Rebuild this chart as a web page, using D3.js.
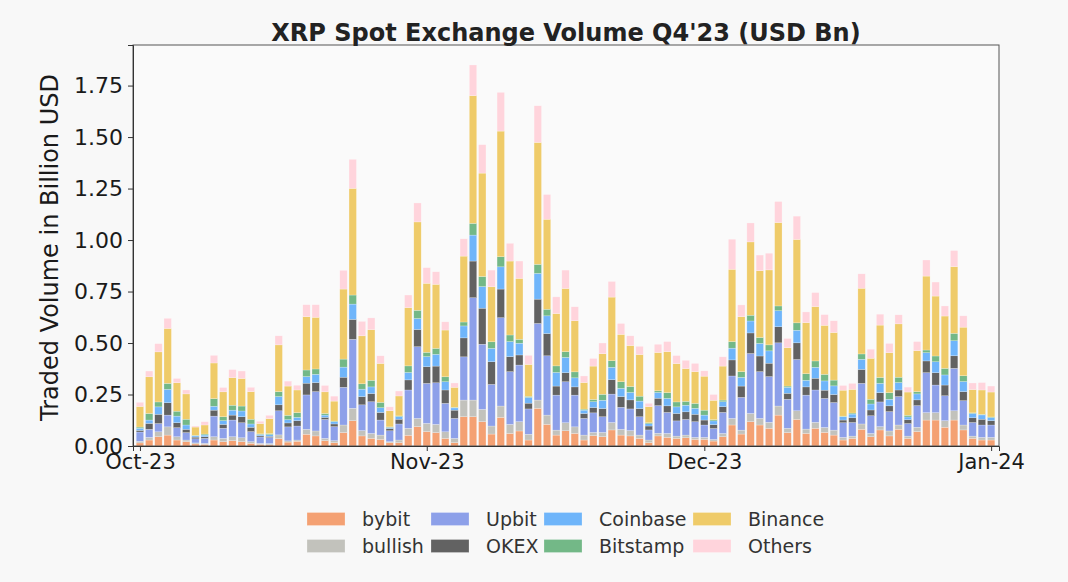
<!DOCTYPE html>
<html>
<head>
<meta charset="utf-8">
<script src="https://cdn.jsdelivr.net/npm/d3@7"></script>
<style>
  html, body { margin: 0; padding: 0; background: #f8f8f8; }
  svg { display: block; font-family: "DejaVu Sans", sans-serif; }
</style>
</head>
<body>
<svg id="chart" width="1068" height="582"></svg>
<script>
// ---------- data ----------
const startDate = "2023-10-01";
const endDate = "2024-01-01";
const seriesNames = ["bybit", "bullish", "Upbit", "OKEX", "Coinbase", "Bitstamp", "Binance", "Others"];
const seriesColors = ["#F4A173", "#C2C2BC", "#8DA0E9", "#626262", "#6FB5FA", "#73B887", "#EFCB69", "#FFD4DC"];
const yTicks = [0, 0.25, 0.5, 0.75, 1.0, 1.25, 1.5, 1.75];
const xTickLabels = ["Oct-23", "Nov-23", "Dec-23", "Jan-24"];
const xTickDates = ["2023-10-01", "2023-11-01", "2023-12-01", "2024-01-01"];

const bybit = [0.015,0.029,0.045,0.053,0.029,0.021,0.010,0.008,0.029,0.021,0.026,0.021,0.013,0.008,0.006,0.036,0.019,0.023,0.057,0.049,0.026,0.016,0.065,0.123,0.049,0.037,0.032,0.016,0.016,0.052,0.094,0.070,0.065,0.037,0.016,0.142,0.142,0.118,0.058,0.139,0.061,0.073,0.029,0.183,0.105,0.053,0.074,0.061,0.029,0.050,0.045,0.078,0.053,0.049,0.037,0.016,0.049,0.042,0.037,0.040,0.032,0.032,0.024,0.045,0.102,0.058,0.118,0.102,0.086,0.150,0.065,0.129,0.061,0.086,0.066,0.053,0.029,0.037,0.081,0.045,0.078,0.049,0.081,0.037,0.070,0.126,0.126,0.091,0.126,0.078,0.037,0.029,0.029];
const bullish = [0.008,0.013,0.024,0.040,0.016,0.008,0.005,0.005,0.016,0.016,0.019,0.019,0.008,0.005,0.006,0.018,0.006,0.006,0.024,0.024,0.011,0.010,0.037,0.060,0.026,0.024,0.021,0.005,0.013,0.034,0.040,0.040,0.040,0.032,0.021,0.081,0.081,0.060,0.039,0.055,0.044,0.045,0.028,0.040,0.045,0.024,0.039,0.032,0.024,0.016,0.021,0.036,0.028,0.026,0.016,0.013,0.013,0.019,0.011,0.013,0.010,0.010,0.008,0.016,0.032,0.019,0.040,0.032,0.029,0.044,0.021,0.042,0.021,0.029,0.024,0.024,0.013,0.011,0.026,0.016,0.016,0.024,0.021,0.011,0.021,0.036,0.036,0.032,0.045,0.024,0.011,0.013,0.013];
const upbit = [0.045,0.039,0.040,0.057,0.044,0.036,0.020,0.024,0.100,0.049,0.081,0.073,0.049,0.031,0.029,0.117,0.068,0.068,0.167,0.191,0.092,0.068,0.183,0.335,0.125,0.154,0.073,0.053,0.078,0.186,0.348,0.194,0.202,0.138,0.097,0.210,0.497,0.316,0.202,0.429,0.256,0.275,0.123,0.372,0.288,0.170,0.199,0.154,0.081,0.095,0.076,0.138,0.107,0.105,0.089,0.049,0.134,0.102,0.074,0.076,0.076,0.060,0.053,0.102,0.206,0.159,0.291,0.227,0.222,0.307,0.141,0.249,0.165,0.157,0.141,0.134,0.071,0.066,0.197,0.086,0.120,0.094,0.138,0.061,0.105,0.194,0.134,0.121,0.206,0.118,0.066,0.060,0.060];
const okex = [0.008,0.029,0.045,0.060,0.024,0.016,0.008,0.008,0.029,0.019,0.024,0.029,0.021,0.006,0.006,0.029,0.019,0.026,0.057,0.044,0.010,0.013,0.049,0.097,0.040,0.040,0.037,0.011,0.023,0.049,0.084,0.081,0.081,0.065,0.040,0.092,0.178,0.175,0.110,0.139,0.073,0.049,0.028,0.118,0.108,0.044,0.044,0.040,0.024,0.026,0.040,0.070,0.052,0.044,0.040,0.019,0.036,0.032,0.036,0.037,0.036,0.024,0.019,0.028,0.078,0.055,0.100,0.076,0.065,0.078,0.029,0.081,0.040,0.057,0.040,0.039,0.013,0.023,0.068,0.028,0.045,0.028,0.032,0.019,0.028,0.057,0.060,0.052,0.061,0.044,0.023,0.028,0.021];
const coinbase = [0.010,0.016,0.036,0.065,0.032,0.021,0.006,0.008,0.019,0.018,0.024,0.028,0.016,0.006,0.008,0.040,0.016,0.016,0.032,0.040,0.011,0.011,0.049,0.074,0.036,0.032,0.023,0.005,0.013,0.036,0.053,0.049,0.057,0.040,0.011,0.058,0.126,0.105,0.065,0.108,0.073,0.057,0.028,0.125,0.086,0.066,0.074,0.044,0.016,0.028,0.040,0.060,0.040,0.036,0.036,0.011,0.028,0.036,0.032,0.032,0.029,0.024,0.018,0.024,0.057,0.042,0.058,0.061,0.060,0.078,0.029,0.061,0.032,0.053,0.045,0.042,0.016,0.018,0.049,0.029,0.045,0.032,0.036,0.013,0.029,0.040,0.053,0.049,0.073,0.049,0.021,0.021,0.015];
const bitstamp = [0.006,0.032,0.024,0.029,0.024,0.028,0.003,0.005,0.037,0.019,0.024,0.024,0.023,0.003,0.005,0.024,0.021,0.023,0.032,0.026,0.008,0.003,0.039,0.044,0.026,0.032,0.026,0.003,0.003,0.032,0.040,0.021,0.029,0.024,0.003,0.019,0.057,0.049,0.032,0.049,0.032,0.019,0.005,0.044,0.032,0.032,0.028,0.029,0.005,0.011,0.029,0.032,0.032,0.029,0.024,0.005,0.008,0.028,0.024,0.019,0.024,0.024,0.006,0.008,0.032,0.028,0.028,0.029,0.029,0.023,0.006,0.036,0.032,0.031,0.032,0.028,0.003,0.005,0.026,0.023,0.029,0.032,0.026,0.008,0.011,0.013,0.028,0.032,0.036,0.028,0.003,0.003,0.003];
const binance = [0.100,0.178,0.243,0.267,0.138,0.123,0.040,0.044,0.173,0.121,0.134,0.134,0.134,0.050,0.073,0.227,0.142,0.110,0.259,0.251,0.105,0.097,0.340,0.518,0.233,0.246,0.189,0.078,0.097,0.283,0.429,0.335,0.311,0.227,0.097,0.320,0.620,0.502,0.267,0.610,0.359,0.296,0.155,0.592,0.437,0.254,0.307,0.248,0.129,0.162,0.197,0.309,0.230,0.199,0.202,0.078,0.186,0.199,0.186,0.159,0.154,0.165,0.094,0.165,0.351,0.267,0.356,0.324,0.364,0.405,0.186,0.405,0.248,0.264,0.238,0.231,0.126,0.115,0.319,0.199,0.254,0.194,0.259,0.113,0.199,0.359,0.291,0.254,0.324,0.236,0.113,0.118,0.121];
const others = [0.020,0.028,0.040,0.049,0.021,0.019,0.005,0.016,0.037,0.021,0.039,0.036,0.021,0.011,0.016,0.044,0.024,0.023,0.058,0.061,0.031,0.024,0.091,0.141,0.070,0.057,0.037,0.019,0.024,0.061,0.092,0.076,0.061,0.040,0.021,0.084,0.149,0.138,0.081,0.188,0.086,0.084,0.044,0.178,0.120,0.081,0.089,0.068,0.032,0.037,0.052,0.076,0.053,0.047,0.040,0.016,0.040,0.049,0.039,0.040,0.040,0.026,0.028,0.045,0.146,0.057,0.092,0.076,0.081,0.102,0.045,0.113,0.052,0.068,0.052,0.057,0.023,0.029,0.070,0.044,0.053,0.045,0.044,0.024,0.044,0.078,0.068,0.049,0.078,0.055,0.032,0.036,0.029];

// ---------- build table ----------
const parse = d3.utcParse("%Y-%m-%d");
const dates = d3.utcDay.range(parse(startDate), d3.utcDay.offset(parse(endDate), 1));
const seriesValues = [bybit, bullish, upbit, okex, coinbase, bitstamp, binance, others];
const table = dates.map((d, i) => {
  const row = { date: d };
  seriesNames.forEach((n, k) => row[n] = seriesValues[k][i]);
  return row;
});
const stacked = d3.stack().keys(seriesNames)(table);

// ---------- layout ----------
const svg = d3.select("#chart");
const plot = { left: 133, right: 999, top: 45, bottom: 446 };
const DAY = 86400000;

const x = d3.scaleUtc()
  .domain([new Date(+dates[0] - 0.75 * DAY), new Date(+dates[dates.length - 1] + 0.85 * DAY)])
  .range([plot.left, plot.right]);
const y = d3.scaleLinear()
  .domain([0, 1.947])
  .range([plot.bottom, plot.top]);

const barW = x(new Date(+dates[0] + 0.8 * DAY)) - x(dates[0]);

svg.append("rect").attr("width", 1068).attr("height", 582).attr("fill", "#f8f8f8");
svg.append("rect")
  .attr("x", plot.left).attr("y", plot.top)
  .attr("width", plot.right - plot.left).attr("height", plot.bottom - plot.top)
  .attr("fill", "#fafafa");

// bars
svg.append("g").selectAll("g")
  .data(stacked)
  .join("g")
  .attr("fill", (d, i) => seriesColors[i])
  .selectAll("rect")
  .data(d => d)
  .join("rect")
  .attr("x", d => x(d.data.date) - barW / 2)
  .attr("width", barW)
  .attr("y", d => y(d[1]))
  .attr("height", d => Math.max(0, y(d[0]) - y(d[1])))
  .attr("stroke", "#ffffff")
  .attr("stroke-opacity", 0.45)
  .attr("stroke-width", 0.5);

// frame
svg.append("rect")
  .attr("x", plot.left).attr("y", plot.top)
  .attr("width", plot.right - plot.left).attr("height", plot.bottom - plot.top)
  .attr("fill", "none").attr("stroke", "#555").attr("stroke-width", 1);

// y axis
const yAxis = d3.axisLeft(y).tickValues(yTicks).tickFormat(d3.format(".2f")).tickSize(5).tickPadding(5);
const gy = svg.append("g").attr("transform", `translate(${plot.left},0)`).call(yAxis);
gy.select(".domain").attr("stroke", "#333");
gy.selectAll(".tick line").attr("stroke", "#333");
gy.selectAll(".tick text").attr("font-size", 22).attr("fill", "#1a1a1a").attr("font-family", "DejaVu Sans");

// x axis
const xAxis = d3.axisBottom(x)
  .tickValues(xTickDates.map(parse))
  .tickFormat((d, i) => xTickLabels[i])
  .tickSize(5).tickPadding(3);
const gx = svg.append("g").attr("transform", `translate(0,${plot.bottom})`).call(xAxis);
gx.select(".domain").attr("stroke", "#333");
gx.selectAll(".tick line").attr("stroke", "#333");
gx.selectAll(".tick text").attr("font-size", 21).attr("fill", "#1a1a1a").attr("font-family", "DejaVu Sans");

// title
svg.append("text")
  .attr("x", (plot.left + plot.right) / 2).attr("y", 41)
  .attr("text-anchor", "middle")
  .attr("font-size", 24).attr("font-weight", "bold").attr("fill", "#222")
  .text("XRP Spot Exchange Volume Q4'23 (USD Bn)");

// y label
svg.append("text")
  .attr("transform", `translate(58,${(plot.top + plot.bottom) / 2 + 2}) rotate(-90)`)
  .attr("text-anchor", "middle")
  .attr("font-size", 24).attr("fill", "#1a1a1a")
  .text("Traded Volume in Billion USD");

// legend
const legendCols = [307, 431, 544, 693];
const legendRows = [519, 546];
const lg = svg.append("g");
seriesNames.forEach((name, i) => {
  const col = Math.floor(i / 2), row = i % 2;
  const gx0 = legendCols[col], gy0 = legendRows[row];
  lg.append("rect")
    .attr("x", gx0).attr("y", gy0 - 6.5)
    .attr("width", 38).attr("height", 13)
    .attr("fill", seriesColors[i])
    .attr("stroke", "#ffffff").attr("stroke-opacity", 0.45).attr("stroke-width", 0.5);
  lg.append("text")
    .attr("x", gx0 + 55).attr("y", gy0)
    .attr("dy", "0.35em")
    .attr("font-size", 19).attr("fill", "#333")
    .text(name);
});
</script>
</body>
</html>
